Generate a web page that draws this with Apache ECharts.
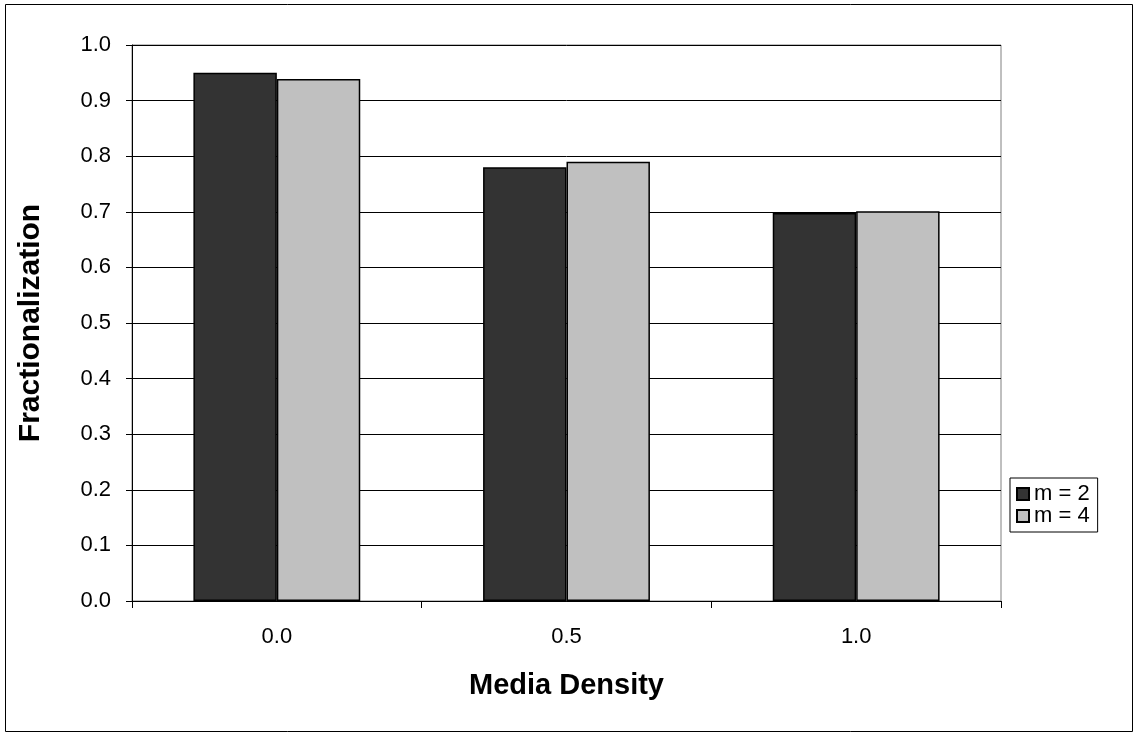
<!DOCTYPE html>
<html>
<head>
<meta charset="utf-8">
<script src="https://cdn.jsdelivr.net/npm/echarts@6/dist/echarts.min.js"></script>
<style>html,body{margin:0;padding:0;background:#fff;}#c{width:1133px;height:732px;}</style>
</head>
<body>
<div id="c"></div>
<script>
var categories = ['0.0', '0.5', '1.0'];
var seriesNames = ['m = 2', 'm = 4'];
var m2 = [0.950, 0.780, 0.698];
var m4 = [0.939, 0.790, 0.701];
var yTicks = { min: 0, max: 1, interval: 0.1 };

var chart = echarts.init(document.getElementById('c'), null, { renderer: 'canvas' });
var font = 'Liberation Sans, Arial, sans-serif';
chart.setOption({
  animation: false,
  backgroundColor: '#fff',
  graphic: [{
    type: 'rect', left: 3, top: 2, z: -1,
    shape: { width: 1127, height: 727 },
    style: { fill: 'none', stroke: '#000', lineWidth: 1 }
  }],
  grid: { left: 132, right: 132, top: 45, bottom: 131, show: true, borderColor: '#808080', borderWidth: 1 },
  legend: {
    orient: 'vertical', left: 1010, top: 478,
    data: seriesNames,
    icon: 'rect', itemWidth: 12, itemHeight: 12, itemGap: 0,
    padding: [5, 8, 5, 6],
    borderColor: '#000', borderWidth: 1,
    textStyle: { fontFamily: font, fontSize: 22, lineHeight: 22, color: '#000' }
  },
  xAxis: {
    type: 'category', data: categories,
    axisLine: { lineStyle: { color: '#000', width: 1 } },
    axisTick: { show: true, length: 7, lineStyle: { color: '#000' } },
    axisLabel: { fontFamily: font, fontSize: 22, color: '#000', margin: 25 },
    name: 'Media Density', nameLocation: 'middle', nameGap: 70,
    nameTextStyle: { fontFamily: font, fontSize: 29, fontWeight: 'bold', color: '#000' }
  },
  yAxis: {
    type: 'value', min: yTicks.min, max: yTicks.max, interval: yTicks.interval,
    axisLine: { show: true, lineStyle: { color: '#000', width: 1 } },
    axisTick: { show: true, length: 6, lineStyle: { color: '#000' } },
    axisLabel: { fontFamily: font, fontSize: 22, color: '#000', margin: 21, formatter: function (v) { return v.toFixed(1); } },
    splitLine: { show: true, lineStyle: { color: '#000', width: 1 } },
    name: 'Fractionalization', nameLocation: 'middle', nameGap: 86, nameRotate: 90,
    nameTextStyle: { fontFamily: font, fontSize: 30, fontWeight: 'bold', color: '#000' }
  },
  series: [
    { name: seriesNames[0], type: 'bar', data: m2, barWidth: '28.8%', barGap: '0%',
      itemStyle: { color: '#333333', borderColor: '#000', borderWidth: 1.5 } },
    { name: seriesNames[1], type: 'bar', data: m4, barWidth: '28.8%', barGap: '0%',
      itemStyle: { color: '#c0c0c0', borderColor: '#000', borderWidth: 1.5 } }
  ]
});
</script>
</body>
</html>
